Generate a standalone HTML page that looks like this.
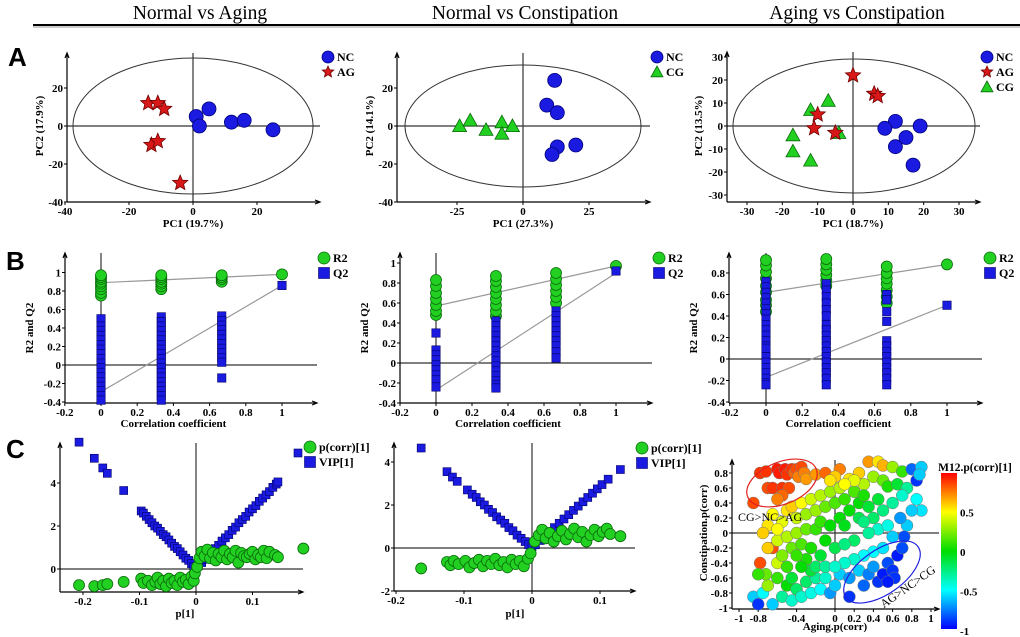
<!DOCTYPE html>
<html><head><meta charset="utf-8"><style>
html,body{margin:0;padding:0;background:#fff;}
svg{display:block;font-family:"Liberation Serif",serif;}
.t{font-weight:bold;font-size:11px;fill:#000;}
.h{font-size:19.5px;fill:#000;}
.L{font-family:"Liberation Sans",sans-serif;font-weight:bold;font-size:26px;fill:#000;}
</style></head><body>
<svg id="fig" width="1020" height="637" viewBox="0 0 1020 637">
<defs>
<linearGradient id="jet" x1="0" y1="0" x2="0" y2="1">
<stop offset="0" stop-color="#ff0000"/><stop offset="0.25" stop-color="#ffff00"/><stop offset="0.5" stop-color="#00dd00"/><stop offset="0.75" stop-color="#00ffff"/><stop offset="1" stop-color="#0000ff"/>
</linearGradient>
</defs>
<text class="h" x="200" y="19" text-anchor="middle">Normal vs Aging</text>
<text class="h" x="525" y="19" text-anchor="middle">Normal vs Constipation</text>
<text class="h" x="857" y="19" text-anchor="middle">Aging vs Constipation</text>
<line x1="33" y1="25" x2="1020" y2="25" stroke="#000" stroke-width="2"/>
<line x1="33" y1="27" x2="1020" y2="27" stroke="#999" stroke-width="1"/>
<text class="L" x="8" y="66">A</text>
<text class="L" x="6" y="270">B</text>
<text class="L" x="6" y="458">C</text>
<g id="root"></g>
</svg>
<script>
// ---------- Row A: PCA scores ----------
const a1NCx=[1,5,2,12,16,25], a1NCy=[5,9,0,2,3,-2];
const a1AGx=[-14,-11,-9,-13,-11,-4], a1AGy=[12,12,9,-10,-8,-30];
const a2NCx=[12,9,13,13,20,11], a2NCy=[24,11,7,-11,-10,-15];
const a2CGx=[-24,-20,-14,-8,-8,-4], a2CGy=[0,3,-2,2,-4,0];
const a3NCx=[12,9,15,19,12,17], a3NCy=[2,-1,-5,0,-9,-17];
const a3AGx=[0,6,7,-10,-11,-5], a3AGy=[22,14,13,5,-1,-3];
const a3CGx=[-7,-12,-17,-17,-12,-4], a3CGy=[11,7,-4,-11,-15,-3];
// ---------- Row B: permutation tests ----------
const b1R2x=[0,0,0,0,0,0,0,0,0,0.333,0.333,0.333,0.333,0.333,0.333,0.333,0.667,0.667,0.667,0.667,1];
const b1R2y=[0.75,0.78,0.82,0.85,0.88,0.9,0.93,0.95,0.97,0.82,0.85,0.88,0.9,0.93,0.95,0.97,0.9,0.93,0.95,0.97,0.98];
const b1Q2x=[0,0,0,0,0,0,0,0,0,0,0,0,0,0,0,0,0,0,0.333,0.333,0.333,0.333,0.333,0.333,0.333,0.333,0.333,0.333,0.333,0.333,0.333,0.333,0.333,0.333,0.333,0.333,0.333,0.667,0.667,0.667,0.667,0.667,0.667,0.667,0.667,0.667,0.667,0.667,0.667,1];
const b1Q2y=[0.5,0.42,0.37,0.32,0.27,0.22,0.17,0.12,0.07,0.02,-0.03,-0.08,-0.13,-0.18,-0.23,-0.28,-0.33,-0.38,0.52,0.47,0.42,0.37,0.32,0.27,0.22,0.17,0.12,0.07,0.02,-0.03,-0.08,-0.13,-0.18,-0.23,-0.28,-0.33,-0.38,0.53,0.48,0.43,0.38,0.33,0.28,0.23,0.18,0.13,0.08,0.03,-0.14,0.86];
const b1Lines=[[0,0.89,1,0.98],[0,-0.29,1,0.86]];
const b2R2x=[0,0,0,0,0,0,0,0.333,0.333,0.333,0.333,0.333,0.333,0.333,0.333,0.667,0.667,0.667,0.667,0.667,0.667,1];
const b2R2y=[0.48,0.52,0.58,0.64,0.7,0.77,0.83,0.47,0.52,0.58,0.64,0.7,0.76,0.82,0.87,0.6,0.66,0.72,0.78,0.84,0.9,0.97];
const b2Q2x=[0,0,0,0,0,0,0,0,0,0.333,0.333,0.333,0.333,0.333,0.333,0.333,0.333,0.333,0.333,0.333,0.333,0.333,0.333,0.333,0.667,0.667,0.667,0.667,0.667,0.667,0.667,0.667,0.667,0.667,1];
const b2Q2y=[0.3,0.13,0.08,0.03,-0.02,-0.07,-0.12,-0.17,-0.24,0.42,0.37,0.32,0.27,0.22,0.17,0.12,0.07,0.02,-0.03,-0.08,-0.13,-0.18,-0.22,-0.25,0.52,0.47,0.42,0.37,0.32,0.27,0.22,0.17,0.11,0.05,0.92];
const b2Lines=[[0,0.57,1,0.97],[0,-0.27,1,0.9]];
const b3R2x=[0,0,0,0,0,0,0,0,0,0.333,0.333,0.333,0.333,0.333,0.333,0.667,0.667,0.667,0.667,0.667,0.667,0.667,1];
const b3R2y=[0.44,0.5,0.55,0.62,0.68,0.75,0.81,0.87,0.92,0.68,0.73,0.78,0.83,0.88,0.93,0.52,0.58,0.64,0.7,0.75,0.8,0.86,0.88];
const b3Q2x=[0,0,0,0,0,0,0,0,0,0,0,0,0,0,0,0,0,0,0,0,0,0,0.333,0.333,0.333,0.333,0.333,0.333,0.333,0.333,0.333,0.333,0.333,0.333,0.333,0.333,0.333,0.333,0.333,0.333,0.667,0.667,0.667,0.667,0.667,0.667,0.667,0.667,0.667,0.667,0.667,0.667,0.667,1];
const b3Q2y=[0.72,0.67,0.62,0.57,0.52,0.47,0.42,0.37,0.32,0.27,0.22,0.17,0.12,0.07,0.02,-0.03,-0.08,-0.13,-0.18,-0.22,-0.24,0.1,0.7,0.64,0.58,0.52,0.46,0.4,0.32,0.27,0.22,0.17,0.12,0.07,0.02,-0.03,-0.08,-0.13,-0.18,-0.24,0.6,0.55,0.44,0.35,0.17,0.12,0.07,0.02,-0.03,-0.08,-0.13,-0.18,-0.24,0.5];
const b3Lines=[[0,0.62,1,0.88],[0,-0.17,1,0.5]];
// ---------- Row C: S-plots ----------
const c1VIPp=[-0.207,-0.18,-0.165,-0.157,-0.128,-0.097,-0.093,-0.088,-0.083,-0.078,-0.073,-0.068,-0.063,-0.058,-0.053,-0.048,-0.043,-0.038,-0.033,-0.028,-0.023,-0.018,-0.013,-0.008,-0.004,0,0.004,0.01,0.016,0.022,0.028,0.034,0.04,0.046,0.052,0.058,0.064,0.07,0.076,0.082,0.088,0.094,0.1,0.106,0.112,0.118,0.124,0.13,0.136,0.142,0.145];
const c1VIP=[5.9,5.15,4.7,4.45,3.65,2.7,2.6,2.45,2.3,2.15,2.0,1.9,1.75,1.6,1.5,1.35,1.2,1.05,0.95,0.8,0.65,0.5,0.4,0.25,0.12,0.05,0.15,0.3,0.45,0.6,0.8,0.95,1.1,1.3,1.45,1.6,1.8,1.95,2.15,2.3,2.45,2.65,2.8,2.95,3.15,3.3,3.45,3.6,3.8,3.95,4.05];
const c1Cp=[-0.207,-0.18,-0.165,-0.157,-0.128,-0.097,-0.093,-0.085,-0.078,-0.072,-0.068,-0.063,-0.058,-0.053,-0.048,-0.043,-0.038,-0.033,-0.028,-0.023,-0.018,-0.013,-0.008,-0.004,-0.002,0.002,0.006,0.01,0.015,0.02,0.025,0.03,0.035,0.04,0.045,0.05,0.055,0.06,0.065,0.07,0.075,0.08,0.085,0.09,0.095,0.1,0.105,0.11,0.115,0.12,0.125,0.13,0.14,0.145,0.19];
const c1Corr=[-0.75,-0.8,-0.75,-0.7,-0.6,-0.45,-0.65,-0.55,-0.75,-0.6,-0.4,-0.7,-0.55,-0.8,-0.45,-0.65,-0.55,-0.75,-0.4,-0.6,-0.5,-0.7,-0.35,-0.55,-0.2,0.1,0.5,0.8,0.6,0.9,0.5,0.75,0.4,0.7,0.55,0.85,0.45,0.7,0.55,0.85,0.3,0.75,0.6,0.55,0.7,0.8,0.45,0.65,0.55,0.85,0.5,0.8,0.65,0.55,0.95];
const c2VIPp=[-0.163,-0.125,-0.117,-0.11,-0.095,-0.088,-0.082,-0.076,-0.07,-0.064,-0.058,-0.052,-0.046,-0.04,-0.034,-0.028,-0.022,-0.016,-0.01,-0.005,0,0.005,0.012,0.019,0.026,0.033,0.04,0.047,0.054,0.061,0.068,0.075,0.082,0.089,0.096,0.103,0.112,0.13];
const c2VIP=[4.65,3.55,3.3,3.1,2.7,2.5,2.35,2.15,2.0,1.8,1.65,1.45,1.3,1.15,0.95,0.8,0.6,0.45,0.3,0.15,0.05,0.15,0.35,0.55,0.75,0.95,1.15,1.35,1.55,1.75,1.95,2.15,2.35,2.55,2.75,2.95,3.2,3.65];
const c2Cp=[-0.163,-0.125,-0.12,-0.115,-0.108,-0.098,-0.092,-0.085,-0.078,-0.072,-0.066,-0.06,-0.054,-0.048,-0.042,-0.036,-0.03,-0.024,-0.018,-0.012,-0.006,-0.002,0.004,0.01,0.015,0.02,0.026,0.032,0.038,0.044,0.05,0.056,0.062,0.068,0.074,0.08,0.086,0.092,0.098,0.104,0.11,0.115,0.13];
const c2Corr=[-0.95,-0.65,-0.8,-0.6,-0.75,-0.6,-0.9,-0.7,-0.55,-0.85,-0.6,-0.75,-0.5,-0.8,-0.65,-0.9,-0.55,-0.75,-0.6,-0.85,-0.5,-0.25,0.3,0.6,0.85,0.45,0.7,0.3,0.55,0.8,0.4,0.65,0.9,0.5,0.75,0.3,0.6,0.85,0.55,0.75,0.9,0.65,0.55];
const c3X=[-0.85,-0.78,-0.72,-0.7,-0.65,-0.6,-0.58,-0.55,-0.52,-0.5,-0.48,-0.45,-0.42,-0.4,-0.38,-0.35,-0.32,-0.55,-0.6,-0.3,-0.2,-0.1,0.05,0.0,
0.35,0.45,0.5,0.6,0.7,0.8,0.9,0.85,0.88,0.25,0.15,0.3,0.4,0.5,0.55,0.65,0.75,0.7,0.85,0.9,0.8,0.75,0.72,0.68,
-0.85,-0.8,-0.75,-0.65,-0.7,-0.72,-0.78,-0.65,-0.6,-0.55,-0.5,-0.45,-0.6,-0.55,-0.5,-0.45,-0.4,-0.35,-0.3,-0.25,-0.2,-0.15,-0.1,-0.05,0.0,0.05,0.15,0.15,0.25,0.3,0.35,0.4,0.45,0.5,0.55,0.6,0.65,0.62,0.7,0.55,0.4,0.3,0.2,0.1,0.5,0.6,0.45,0.35,0.2,
-0.7,-0.65,-0.55,-0.5,-0.45,-0.4,-0.35,-0.3,-0.25,-0.2,-0.15,-0.1,-0.05,0.0,0.05,0.1,0.15,0.2,0.25,0.3,0.35,0.45,0.5,0.6,0.4,-0.6,-0.5,-0.45,-0.4,-0.35,-0.3,-0.3,-0.25,-0.2,-0.15,-0.15,-0.1,-0.05,0.0,0.05,0.1,0.1,-0.25,-0.35,-0.4,-0.2,-0.1,0.0,0.25,0.3,-0.7,-0.75,-0.8,-0.6,0.55,0.2,0.1,-0.05];
const c3Y=[0.4,0.8,0.82,0.6,0.6,0.85,0.8,0.6,0.85,0.78,0.6,0.85,0.8,0.85,0.75,0.88,0.8,0.5,0.45,0.72,0.78,0.8,0.85,0.75,
0.95,0.95,0.9,0.88,0.82,0.85,0.88,0.7,0.78,0.8,0.72,0.65,0.75,0.7,0.62,0.65,0.6,0.5,0.45,0.3,0.3,0.1,-0.05,0.2,
-0.85,-0.95,-0.8,-0.95,-0.7,-0.55,-0.4,-0.2,-0.6,-0.85,-0.7,-0.9,-0.4,-0.3,-0.45,-0.6,-0.75,-0.85,-0.65,-0.8,-0.6,-0.75,-0.6,-0.8,-0.7,-0.55,-0.6,-0.85,-0.5,-0.7,-0.55,-0.45,-0.65,-0.55,-0.4,-0.5,-0.3,-0.6,-0.2,-0.65,-0.25,-0.3,-0.35,-0.4,-0.2,-0.05,0.05,0.0,-0.1,
0.1,0.25,0.15,0.3,0.35,0.2,0.4,0.25,0.45,0.3,0.5,0.35,0.55,0.4,0.6,0.45,0.3,0.55,0.4,0.5,0.35,0.45,0.3,0.4,0.2,-0.1,-0.05,-0.2,0.0,-0.15,-0.35,0.05,-0.2,0.05,-0.3,0.15,-0.1,0.1,-0.2,0.2,-0.15,0.1,-0.5,-0.45,-0.3,-0.45,-0.45,-0.45,0.2,0.15,-0.2,0.0,-0.55,0.05,0.1,0.7,0.65,0.7];
const c3C=[0.85,0.9,0.9,0.85,0.9,0.95,0.95,0.9,0.95,0.9,0.85,0.9,0.8,0.85,0.75,0.85,0.75,0.8,0.75,0.7,0.7,0.8,0.75,0.6,
0.7,0.55,0.65,0.3,0.1,-0.8,-0.6,-0.9,-0.6,0.6,0.55,0.35,0.3,0.2,0.05,-0.1,-0.3,-0.4,-0.5,-0.55,-0.6,-0.6,-0.85,-0.7,
-0.6,-0.9,-0.5,-0.6,0.3,0.2,0.85,0.85,0.1,-0.3,0.0,-0.4,0.4,0.25,0.1,-0.1,-0.2,-0.4,-0.2,-0.45,-0.3,-0.5,-0.4,-0.7,-0.6,-0.6,-0.7,-0.9,-0.6,-0.8,-0.75,-0.7,-0.9,-0.95,-0.85,-0.9,-0.95,-0.9,-0.85,-0.95,-0.5,-0.5,-0.4,-0.4,-0.55,-0.6,-0.4,-0.3,-0.2,
0.55,0.5,0.45,0.55,0.6,0.4,0.5,0.3,0.4,0.3,0.35,0.2,0.3,0.15,0.35,0.1,0.0,0.15,0.0,0.05,-0.1,-0.1,-0.25,-0.3,-0.2,0.4,0.35,0.2,0.3,0.15,0.05,0.2,0.05,0.1,-0.1,0.1,0.0,0.0,-0.15,0.0,-0.25,-0.05,-0.1,0.0,0.1,-0.2,-0.3,-0.4,-0.15,-0.25,0.6,0.6,0.1,0.5,-0.45,0.45,0.5,0.55];

const NS="http://www.w3.org/2000/svg";
const root=document.getElementById('root');
function el(tag,attrs,parent){const e=document.createElementNS(NS,tag);for(const k in attrs)e.setAttribute(k,attrs[k]);(parent||root).appendChild(e);return e;}
function lin(v0,p0,v1,p1){return v=>p0+(v-v0)*(p1-p0)/(v1-v0);}
function fmt(v){return (Math.round(v*10)/10).toString();}

function axes(o){
  const g=el('g',{});
  
  
  const zv=el('line',{x1:o.sx(0),y1:o.yTop,x2:o.sx(0),y2:o.yBot,stroke:'#333','stroke-width':1.2},g);
  
  
  const zh=el('line',{x1:o.x0,y1:o.sy(0),x2:o.xEnd,y2:o.sy(0),stroke:'#333','stroke-width':1.2},g);
  
  
  const ya=el('path',{d:`M${o.x0},${o.yBot}V${o.yTop}M${o.x0-2},${o.yTop+5}L${o.x0},${o.yTop}L${o.x0+2},${o.yTop+5}`,stroke:'#000',fill:'none','stroke-width':1.2},g);
  
  
  const xa=el('path',{d:`M${o.x0},${o.yBot}H${o.xEnd}M${o.xEnd-5},${o.yBot-2}L${o.xEnd},${o.yBot}L${o.xEnd-5},${o.yBot+2}`,stroke:'#000',fill:'none','stroke-width':1.2},g);
  
  
  o.xt.forEach(v=>{
    const x=o.sx(v);
    el('line',{x1:x,y1:o.yBot,x2:x,y2:o.yBot+3,stroke:'#000'},g);
    const t=el('text',{x:x,y:o.yBot+13,'text-anchor':'middle',class:'t'},g);
    t.textContent=fmt(v);
    
    
  });
  o.yt.forEach(v=>{
    const y=o.sy(v);
    el('line',{x1:o.x0-3,y1:y,x2:o.x0,y2:y,stroke:'#000'},g);
    const t=el('text',{x:o.x0-4,y:y+4,'text-anchor':'end',class:'t'},g);
    t.textContent=fmt(v);
    
    
  });
  const xl=el('text',{x:o.xlx,y:o.xly,'text-anchor':'middle',class:'t'},g);
  xl.textContent=o.xlab;
  
  
  const yl=el('text',{x:0,y:0,'text-anchor':'middle',class:'t',transform:`translate(${o.ylx},${o.yly}) rotate(-90)`},g);
  yl.textContent=o.ylab;
  
  
}
const STY={NC:['#1a1ae0','#00007a'],AG:['#d81818','#700000'],CG:['#22d022','#0b6b0b'],R2:['#22d022','#0b6b0b'],Q2:['#1a1ae0','#00006a']};
function star(cx,cy,r){let p=[];for(let i=0;i<10;i++){const a=-Math.PI/2+i*Math.PI/5;const rr=i%2?r*0.45:r;p.push((cx+rr*Math.cos(a)).toFixed(1)+','+(cy+rr*Math.sin(a)).toFixed(1));}return p.join(' ');}
function mark(shape,x,y,s,sty,name){
  let e;
  if(shape==='c')e=el('circle',{cx:x,cy:y,r:s,fill:sty[0],stroke:sty[1],'stroke-width':0.8});
  else if(shape==='s')e=el('rect',{x:x-s,y:y-s,width:2*s,height:2*s,fill:sty[0],stroke:sty[1],'stroke-width':0.6});
  else if(shape==='t')e=el('polygon',{points:`${x},${y-s} ${x+s},${y+s*0.8} ${x-s},${y+s*0.8}`,fill:sty[0],stroke:sty[1],'stroke-width':0.8});
  else e=el('polygon',{points:star(x,y,s),fill:sty[0],stroke:sty[1],'stroke-width':0.8});
  
  
  return e;
}
function series(xs,ys,sx,sy,shape,s,sty,name){xs.forEach((v,i)=>mark(shape,sx(v),sy(ys[i]),s,sty,name));}
function legend(x,y,items,name){
  items.forEach((it,i)=>{
    mark(it[0],x,y+i*15,it[0]==='s'?5.5:6,STY[it[2]]||it[2],name+'-marker');
    const t=el('text',{x:x+9,y:y+i*15+4,class:'t',style:'font-size:12px'});
    t.textContent=it[1];
    
    
  });
}
function ellipse(cx,cy,rx,ry,name){
  const e=el('ellipse',{cx,cy,rx,ry,fill:'none',stroke:'#333','stroke-width':1});
  
  
}

// A1
let sx=lin(0,193,20,257), sy=lin(0,126,20,88);
ellipse(193,126,120,68,'a1-confidence-ellipse');
axes({name:'a1',sx,sy,x0:67,xEnd:320,yBot:202,yTop:53,xt:[-40,-20,0,20],yt:[20,0,-20,-40],xlab:'PC1 (19.7%)',xlx:193,xly:227,ylab:'PC2 (17.9%)',ylx:43,yly:126});
series(a1NCx,a1NCy,sx,sy,'c',7,STY.NC,'a1-nc-point');
series(a1AGx,a1AGy,sx,sy,'p',8,STY.AG,'a1-ag-point');
legend(328,57,[['c','NC','NC'],['p','AG','AG']],'a1-legend');
// A2
sx=lin(0,523,25,589); sy=lin(0,126,20,88);
ellipse(523,126,118,61,'a2-confidence-ellipse');
axes({name:'a2',sx,sy,x0:397,xEnd:650,yBot:202,yTop:53,xt:[-25,0,25],yt:[20,0,-20,-40],xlab:'PC1 (27.3%)',xlx:523,xly:227,ylab:'PC2 (14.1%)',ylx:373,yly:126});
series(a2NCx,a2NCy,sx,sy,'c',7,STY.NC,'a2-nc-point');
series(a2CGx,a2CGy,sx,sy,'t',7,STY.CG,'a2-cg-point');
legend(657,57,[['c','NC','NC'],['t','CG','CG']],'a2-legend');
// A3
sx=lin(0,853,30,959); sy=lin(0,126,30,57);
ellipse(854,126,121,67,'a3-confidence-ellipse');
axes({name:'a3',sx,sy,x0:727,xEnd:980,yBot:202,yTop:52,xt:[-30,-20,-10,0,10,20,30],yt:[30,20,10,0,-10,-20,-30],xlab:'PC1 (18.7%)',xlx:853,xly:227,ylab:'PC2 (13.5%)',ylx:702,yly:126});
series(a3NCx,a3NCy,sx,sy,'c',7,STY.NC,'a3-nc-point');
series(a3CGx,a3CGy,sx,sy,'t',7,STY.CG,'a3-cg-point');
series(a3AGx,a3AGy,sx,sy,'p',8,STY.AG,'a3-ag-point');
legend(987,57,[['c','NC','NC'],['p','AG','AG'],['t','CG','CG']],'a3-legend');

// B rows
function bpanel(nm,x0o,xEnd,sxr,syr,yt,R2x,R2y,Q2x,Q2y,lines,lx){
  const sx=lin(0,sxr[0],1,sxr[1]), sy=lin(0,syr[0],0.8,syr[1]);
  axes({name:nm,sx,sy,x0:x0o,xEnd,yBot:403,yTop:253,xt:[-0.2,0,0.2,0.4,0.6,0.8,1],yt,xlab:'Correlation coefficient',xlx:sx(0.4),xly:427,ylab:'R2 and Q2',ylx:x0o-32,yly:328});
  lines.forEach((l,i)=>{const e=el('line',{x1:sx(l[0]),y1:sy(l[1]),x2:sx(l[2]),y2:sy(l[3]),stroke:'#999','stroke-width':1.2});
    
    });
  series(R2x,R2y,sx,sy,'c',5.5,STY.R2,nm+'-r2-point');
  series(Q2x,Q2y,sx,sy,'s',4.2,STY.Q2,nm+'-q2-point');
  legend(lx,258,[['c','R2','R2'],['s','Q2','Q2']],nm+'-legend');
}
bpanel('b1',65,317,[101,282],[365,291],[1,0.8,0.6,0.4,0.2,0,-0.2,-0.4],b1R2x,b1R2y,b1Q2x,b1Q2y,b1Lines,324);
bpanel('b2',400,652,[436,616],[363,283],[1,0.8,0.6,0.4,0.2,0,-0.2,-0.4],b2R2x,b2R2y,b2Q2x,b2Q2y,b2Lines,659);
bpanel('b3',729,982,[766,947],[359,273],[0.8,0.6,0.4,0.2,0,-0.2,-0.4],b3R2x,b3R2y,b3Q2x,b3Q2y,b3Lines,990);

// C1
sx=lin(0,196,0.1,252.5); sy=lin(0,569,4,483);
axes({name:'c1',sx,sy,x0:60,xEnd:303,yBot:592,yTop:443,xt:[-0.2,-0.1,0,0.1],yt:[0,2,4],xlab:'p[1]',xlx:185,xly:617,ylab:'',ylx:20,yly:520});
series(c1VIPp,c1VIP,sx,sy,'s',4,STY.Q2,'c1-vip-point');
series(c1Cp,c1Corr,sx,sy,'c',5.5,STY.R2,'c1-pcorr-point');
mark('s',298,453,4,STY.Q2,'c1-legend-marker');
legend(310,447,[['c','p(corr)[1]','R2'],['s','VIP[1]','Q2']],'c1-legend');
// C2
sx=lin(0,532,0.1,600); sy=lin(0,548,4,462);
axes({name:'c2',sx,sy,x0:394,xEnd:635,yBot:591,yTop:443,xt:[-0.2,-0.1,0,0.1],yt:[-2,0,2,4],xlab:'p[1]',xlx:515,xly:617,ylab:'',ylx:360,yly:520});
series(c2VIPp,c2VIP,sx,sy,'s',4,STY.Q2,'c2-vip-point');
series(c2Cp,c2Corr,sx,sy,'c',5.5,STY.R2,'c2-pcorr-point');
legend(642,448,[['c','p(corr)[1]','R2'],['s','VIP[1]','Q2']],'c2-legend');
// C3
function jet(c){const t=(c+1)/2;const stops=[[0,[0,0,255]],[0.25,[0,255,255]],[0.5,[0,221,0]],[0.75,[255,255,0]],[1,[255,0,0]]];
  for(let i=0;i<4;i++){const a=stops[i],b=stops[i+1];if(t<=b[0]){const f=(t-a[0])/(b[0]-a[0]);return 'rgb('+a[1].map((v,k)=>Math.round(v+(b[1][k]-v)*f)).join(',')+')';}}return 'rgb(255,0,0)';}
sx=lin(0,835,1,931); sy=lin(0,533,0.8,473);
axes({name:'c3',sx,sy,x0:732,xEnd:939,yBot:609,yTop:460,xt:[-1,-0.8,-0.4,0,0.2,0.4,0.6,0.8,1],yt:[0.8,0.6,0.4,0.2,0,-0.2,-0.4,-0.6,-0.8,-1],xlab:'Aging.p(corr)',xlx:835,xly:630,ylab:'Constipation.p(corr)',ylx:707,yly:533});
c3X.forEach((v,i)=>{
  const e=el('circle',{cx:sx(v),cy:sy(c3Y[i]),r:6,fill:jet(c3C[i]),stroke:'#777','stroke-width':0.5});
  
  
});
let e=el('ellipse',{cx:0,cy:0,rx:37,ry:21,fill:'none',stroke:'#e02020','stroke-width':1.2,transform:'translate(782,483) rotate(-22)'});


e=el('ellipse',{cx:0,cy:0,rx:44,ry:22,fill:'none',stroke:'#2020e0','stroke-width':1.2,transform:'translate(882,572) rotate(-35)'});


let t=el('text',{x:738,y:521,class:'t',style:'font-weight:normal;font-size:12px'});
t.textContent='CG>NC>AG';


t=el('text',{x:0,y:0,'text-anchor':'middle',class:'t',style:'font-weight:normal;font-size:12px',transform:'translate(910,590) rotate(-35)'});
t.textContent='AG>NC>CG';


e=el('rect',{x:941,y:473,width:16,height:156,fill:'url(#jet)'});


t=el('text',{x:975,y:471,'text-anchor':'middle',class:'t',style:'font-size:11.5px'});
t.textContent='M12.p(corr)[1]';


const cbTicks=[0.5,0,-0.5,-1];
cbTicks.forEach(v=>{
  const tt=el('text',{x:960,y:552-v*79+4,class:'t'});
  tt.textContent=v.toString();
  
  
});
</script>
</body></html>
